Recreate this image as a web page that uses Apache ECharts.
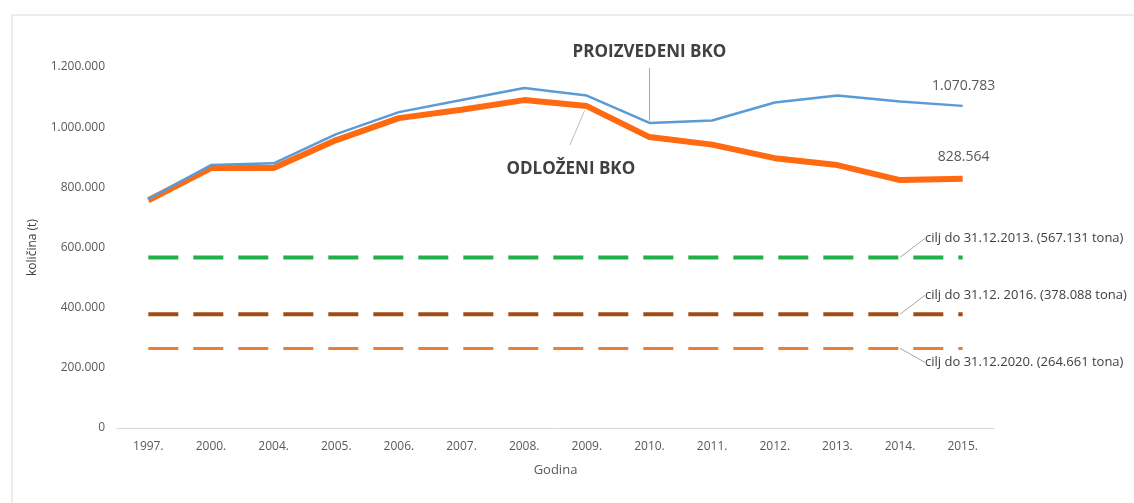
<!DOCTYPE html>
<html>
<head>
<meta charset="utf-8">
<script src="https://cdn.jsdelivr.net/npm/echarts@6/dist/echarts.min.js"></script>
<style>
  html, body { margin: 0; padding: 0; background: #fff; }
  #chart { width: 1134px; height: 503px; }
</style>
</head>
<body>
<div id="chart"></div>
<script>
// godine (kategorije)
const years = ['1997.', '2000.', '2004.', '2005.', '2006.', '2007.', '2008.', '2009.', '2010.', '2011.', '2012.', '2013.', '2014.', '2015.'];
// proizvedeni BKO (t)
const produced = [761000, 874000, 880000, 977000, 1050000, 1090000, 1130000, 1105000, 1014000, 1022000, 1082000, 1105000, 1085000, 1070783];
// odlozeni BKO (t)
const deposited = [757000, 864000, 864000, 957000, 1030000, 1058000, 1090000, 1070000, 967000, 942000, 897000, 874000, 824000, 828564];
// ciljevi
const targetValues = [567131, 378088, 264661];
const targetNames = ['cilj do 31.12.2013. (567.131 tona)', 'cilj do 31.12. 2016. (378.088 tona)', 'cilj do 31.12.2020. (264.661 tona)'];
const targetColors = ['#22b04a', '#a04c15', '#ec7d36'];

const FONT = '"Open Sans", "Noto Sans", sans-serif';
const fmt = v => String(Math.round(v)).replace(/\B(?=(\d{3})+(?!\d))/g, '.');

const chart = echarts.init(document.getElementById('chart'));

// ciljevi - isprekidane linije
const targetSeries = targetValues.map((v, k) => {
  const below = k === 2;
  return {
    name: targetNames[k],
    type: 'line',
    silent: true,
    symbol: 'circle',
    symbolSize: 0,
    showSymbol: true,
    z: 1,
    lineStyle: { color: targetColors[k], width: k === 2 ? 3 : 4, type: [30, 15] },
    itemStyle: { color: targetColors[k] },
    labelLayout: { dx: 20, dy: below ? 14 : -19 },
    labelLine: { show: true, lineStyle: { color: '#a6a6a6', width: 1 } },
    data: years.map((y, i) => i === 12 ? {
      value: v,
      label: {
        show: true, position: 'right', distance: 5,
        formatter: targetNames[k],
        color: '#404040', fontSize: 13, fontFamily: FONT
      }
    } : v)
  };
});

const valueLabel = {
  show: true, position: 'top', formatter: p => fmt(p.value),
  color: '#595959', fontSize: 14, fontFamily: FONT
};
const titleLabel = { show: true, color: '#404040', fontSize: 17, fontWeight: 'bold', fontFamily: FONT };

const option = {
  animation: false,
  grid: { left: 117, right: 140, top: 67, bottom: 75 },
  xAxis: {
    type: 'category',
    data: years,
    boundaryGap: true,
    name: 'Godina',
    nameLocation: 'middle',
    nameGap: 36,
    nameTextStyle: { color: '#595959', fontSize: 13, fontFamily: FONT },
    axisLine: { lineStyle: { color: '#d9d9d9' } },
    axisTick: { show: false },
    axisLabel: { color: '#595959', fontSize: 12, fontFamily: FONT, margin: 13 }
  },
  yAxis: {
    type: 'value',
    min: 0, max: 1200000, interval: 200000,
    name: 'količina (t)',
    nameLocation: 'middle',
    nameGap: 78,
    nameTextStyle: { color: '#404040', fontSize: 12, fontFamily: FONT },
    axisLine: { show: false },
    axisTick: { show: false },
    splitLine: { show: false },
    axisLabel: { color: '#595959', fontSize: 12, fontFamily: FONT, margin: 12, formatter: fmt }
  },
  series: [
    ...targetSeries,
    {
      name: 'ODLOŽENI BKO',
      type: 'line',
      silent: true,
      symbol: 'circle',
      symbolSize: 0,
      showSymbol: true,
      z: 2,
      lineStyle: { color: '#ff6a10', width: 6 },
      itemStyle: { color: '#ff6a10' },
      labelLayout: p => p.dataIndex === 7 ? { dx: -16, dy: 50 } : (p.dataIndex === 13 ? { dx: 1, dy: -10 } : {}),
      data: deposited.map((v, i) => {
        if (i === 7) return { value: v, label: Object.assign({ position: 'bottom', formatter: 'ODLOŽENI BKO' }, titleLabel) };
        if (i === 13) return { value: v, label: valueLabel };
        return v;
      })
    },
    {
      name: 'PROIZVEDENI BKO',
      type: 'line',
      silent: true,
      symbol: 'circle',
      symbolSize: 0,
      showSymbol: true,
      z: 3,
      lineStyle: { color: '#5b9bd5', width: 2.5 },
      itemStyle: { color: '#5b9bd5' },
      labelLayout: p => p.dataIndex === 8 ? { dy: -57 } : (p.dataIndex === 13 ? { dx: 1, dy: -8 } : {}),
      data: produced.map((v, i) => {
        if (i === 8) return { value: v, label: Object.assign({ position: 'top', formatter: 'PROIZVEDENI BKO' }, titleLabel) };
        if (i === 13) return { value: v, label: valueLabel };
        return v;
      })
    }
  ]
};

chart.setOption(option);

// okvir i vodeće linije do naziva serija
const pProd = chart.convertToPixel({ seriesIndex: 4 }, [8, produced[8]]);
const pDep = chart.convertToPixel({ seriesIndex: 3 }, [7, deposited[7]]);
chart.setOption({
  graphic: [
    { type: 'rect', shape: { x: 12, y: 15, width: 1140, height: 500 },
      style: { fill: 'none', stroke: '#d9d9d9', lineWidth: 1 }, silent: true },
    { type: 'line', silent: true, z: 10,
      shape: { x1: pProd[0], y1: pProd[1] - 55, x2: pProd[0], y2: pProd[1] - 2 },
      style: { stroke: '#a6a6a6', lineWidth: 1 } },
    { type: 'line', silent: true, z: 10,
      shape: { x1: pDep[0] - 17, y1: pDep[1] + 39, x2: pDep[0] - 2, y2: pDep[1] + 4 },
      style: { stroke: '#bfbfbf', lineWidth: 1 } }
  ]
});
</script>
</body>
</html>
